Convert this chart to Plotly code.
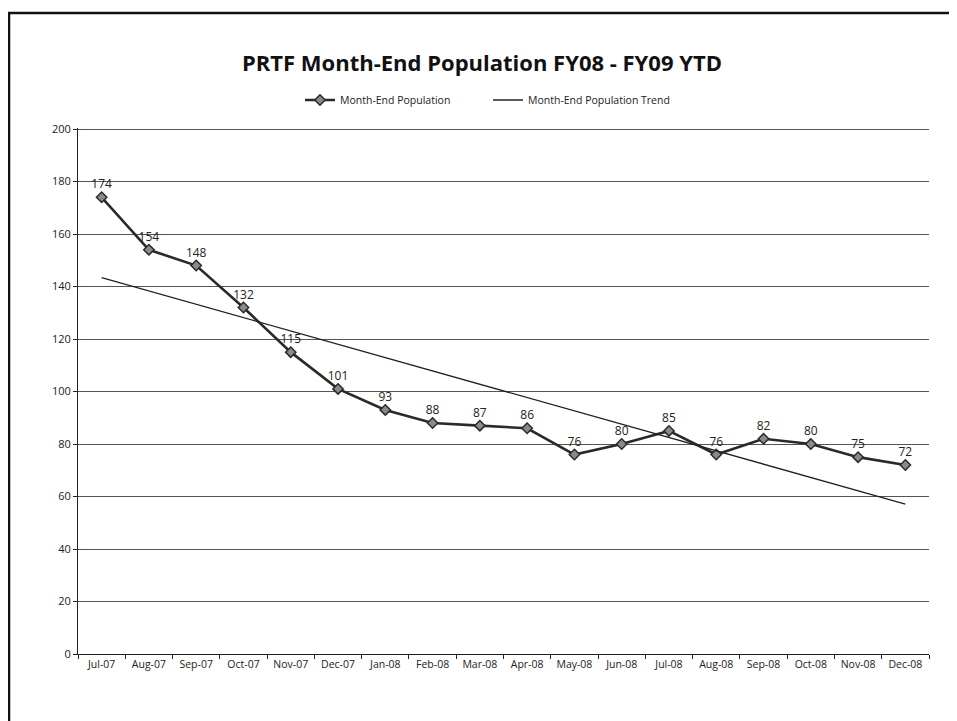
import plotly.graph_objects as go

months = ["Jul-07", "Aug-07", "Sep-07", "Oct-07", "Nov-07", "Dec-07", "Jan-08", "Feb-08",
          "Mar-08", "Apr-08", "May-08", "Jun-08", "Jul-08", "Aug-08", "Sep-08", "Oct-08",
          "Nov-08", "Dec-08"]
population = [174, 154, 148, 132, 115, 101, 93, 88, 87, 86, 76, 80, 85, 76, 82, 80, 75, 72]
trend_months = ["Jul-07", "Dec-08"]
trend_values = [143.4, 57.1]
y_ticks = [0, 20, 40, 60, 80, 100, 120, 140, 160, 180, 200]

FONT = "Open Sans, Lato, sans-serif"
W, H = 949, 713  # page body has an 8px margin

fig = go.Figure()
fig.add_trace(go.Scatter(
    x=months, y=population, mode="lines+markers+text",
    name="Month-End Population",
    line=dict(color="#2a2a2a", width=2.6),
    marker=dict(symbol="diamond", size=8, color="#8a8a8a",
                line=dict(color="#2a2a2a", width=1.5)),
    text=[str(v) for v in population], textposition="top center",
    textfont=dict(family=FONT, size=12, color="#222"),
))
fig.add_trace(go.Scatter(
    x=trend_months, y=trend_values, mode="lines",
    name="Month-End Population Trend",
    line=dict(color="#222", width=1.3),
))

fig.update_layout(
    width=W, height=H,
    paper_bgcolor="white", plot_bgcolor="white",
    margin=dict(l=70, r=28, t=120, b=67, autoexpand=False),
    font=dict(family=FONT, color="#222"),
    title=dict(text="<b>PRTF Month-End Population FY08 - FY09 YTD</b>",
               x=474 / W, xanchor="center", y=1 - 55 / H, yanchor="middle",
               font=dict(family=FONT, size=22, color="#111")),
    legend=dict(orientation="h", x=(488 - 78) / 851, xanchor="center", y=1 - 92 / H,
                yref="container", yanchor="middle",
                font=dict(family=FONT, size=10.5, color="#222"),
                itemwidth=30, tracegroupgap=0, entrywidth=143),
    showlegend=True,
    shapes=[dict(type="rect", xref="paper", yref="paper",
                 x0=-69 / 851, x1=1 + 60 / 851, y0=-0.2, y1=1 + 115 / 526,
                 line=dict(color="#111", width=2.5), fillcolor="rgba(0,0,0,0)")],
)
fig.update_xaxes(
    type="category", categoryorder="array", categoryarray=months,
    range=[-0.5, len(months) - 0.5],
    showline=True, linecolor="#222", linewidth=1,
    ticks="outside", tickson="boundaries", ticklen=4, tickcolor="#222",
    showgrid=False, tickangle=0,
    tickfont=dict(family=FONT, size=10.5, color="#222"),
)
fig.update_yaxes(
    range=[0, 200.4], tickvals=y_ticks,
    showline=True, linecolor="#222", linewidth=1,
    ticks="outside", ticklen=4, tickcolor="#222",
    showgrid=True, gridcolor="#555", gridwidth=1,
    zeroline=False,
    tickfont=dict(family=FONT, size=11, color="#222"),
)

fig.write_html("out.html")
